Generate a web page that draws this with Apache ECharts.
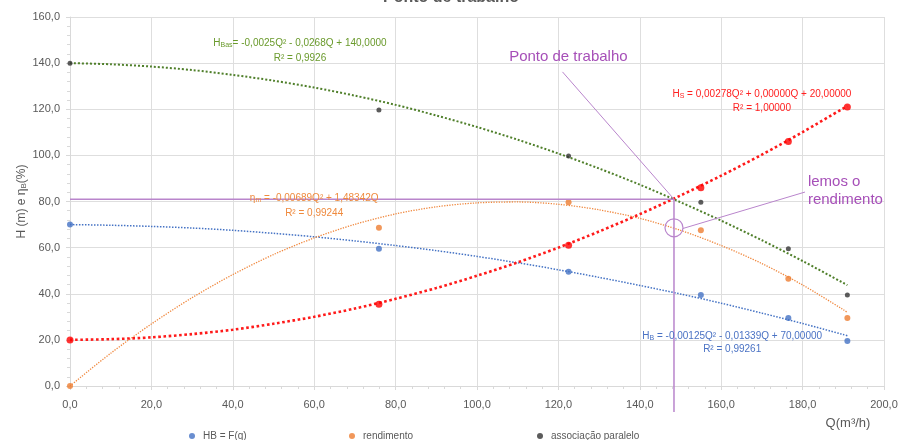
<!DOCTYPE html>
<html>
<head>
<meta charset="utf-8">
<script src="https://cdn.jsdelivr.net/npm/echarts@6/dist/echarts.min.js"></script>
<style>
html,body{margin:0;padding:0;background:#fff;}
#c{width:902px;height:440px;}
</style>
</head>
<body>
<div id="c"></div>
<script>
// ---- data ----
const Q      = [0, 75.9, 122.5, 155, 176.5, 191];
const hb     = [70, 59.5, 49.5, 39.5, 29.5, 19.5];
const rend   = [0, 68.6, 79.7, 67.5, 46.5, 29.5];
const assoc  = [140, 119.7, 99.7, 79.7, 59.5, 39.5];
const hs     = [20, 35.5, 61, 86, 106, 121];

// trendline values
const trendQ     = [0, 10, 20, 30, 40, 50, 60, 70, 80, 90, 100, 110, 120, 130, 140, 150, 160, 170, 180, 190, 191];
const trendHB    = [70, 69.7, 69.2, 68.5, 67.5, 66.2, 64.7, 62.9, 60.9, 58.7, 56.2, 53.4, 50.4, 47.1, 43.6, 39.9, 35.9, 31.6, 27.1, 22.3, 21.8];
const trendRend  = [0, 14.2, 26.9, 38.3, 48.3, 57.0, 64.2, 70.1, 74.6, 77.7, 79.4, 79.8, 78.8, 76.4, 72.7, 67.5, 60.9, 53.1, 43.8, 33.1, 31.9];
const trendAssoc = [140, 139.5, 138.5, 137.0, 134.9, 132.4, 129.4, 125.9, 121.9, 117.3, 112.3, 106.8, 100.8, 94.3, 87.3, 79.7, 71.7, 63.2, 54.2, 44.7, 43.7];
const trendHs    = [20, 20.3, 21.1, 22.5, 24.4, 27.0, 30.0, 33.6, 37.8, 42.5, 47.8, 53.6, 60.0, 67.0, 74.5, 82.6, 91.2, 100.3, 110.1, 120.4, 121.4];

const xTicks = {min: 0, max: 200, interval: 20};
const yTicks = {min: 0, max: 160, interval: 20};

// working point and efficiency read-off
const workPoint = [148.4, 81];
const effPoint  = [148.4, 68.6];

const legendNames = ['HB = F(q)', 'rendimento', 'associação paralelo'];

const pairs = (xs, ys) => xs.map((x, i) => [x, ys[i]]);
const fmt = v => v.toFixed(1).replace('.', ',');

const chart = echarts.init(document.getElementById('c'), null, {renderer: 'canvas'});
const FONT = 'Liberation Sans, Arial, sans-serif';
const GRAY = '#595959';

function trend(name, data, color, width) {
  return {
    name: name, type: 'line', data: data, smooth: 0.3, symbol: 'none',
    lineStyle: {color: color, width: width, type: 'dotted'},
    silent: true, z: 2, legendHoverLink: false
  };
}
function pts(name, data, color, size) {
  return {
    name: name, type: 'scatter', data: data, symbolSize: size,
    itemStyle: {color: color}, z: 5
  };
}
function leg(name, left) {
  return {
    data: [name], left: left, top: 426,
    icon: 'circle', itemWidth: 6, itemHeight: 6, itemGap: 0,
    textStyle: {fontFamily: FONT, fontSize: 10, color: GRAY, padding: [0, 0, 0, 3]}
  };
}

chart.setOption({
  animation: false,
  title: {
    text: 'Ponto de trabalho', left: 'center', top: -15,
    textStyle: {fontFamily: FONT, fontSize: 16, fontWeight: 'bold', color: GRAY}
  },
  grid: {left: 70, right: 18, top: 17, bottom: 54, containLabel: false},
  legend: [leg(legendNames[0], 184), leg(legendNames[1], 344), leg(legendNames[2], 532)],
  xAxis: {
    type: 'value', min: xTicks.min, max: xTicks.max, interval: xTicks.interval,
    axisLine: {show: true, lineStyle: {color: '#d9d9d9'}},
    axisTick: {show: true, length: 4, lineStyle: {color: '#d9d9d9'}},
    minorTick: {show: true, splitNumber: 5, length: 3, lineStyle: {color: '#d9d9d9'}},
    splitLine: {show: true, lineStyle: {color: '#dedede'}},
    axisLabel: {formatter: fmt, fontFamily: FONT, fontSize: 11, color: GRAY, margin: 13}
  },
  yAxis: {
    type: 'value', min: yTicks.min, max: yTicks.max, interval: yTicks.interval,
    name: '{a|H (m) e η}{s|B}{a|(%)}', nameLocation: 'middle', nameGap: 42,
    nameMoveOverlap: false,
    nameTextStyle: {
      rich: {
        a: {fontFamily: FONT, fontSize: 12, color: GRAY, lineHeight: 16, verticalAlign: 'bottom'},
        s: {fontFamily: FONT, fontSize: 8, color: GRAY, lineHeight: 10, verticalAlign: 'bottom'}
      }
    },
    axisLine: {show: true, lineStyle: {color: '#d9d9d9'}},
    axisTick: {show: true, length: 4, lineStyle: {color: '#d9d9d9'}},
    minorTick: {show: true, splitNumber: 5, length: 3, lineStyle: {color: '#d9d9d9'}},
    splitLine: {show: true, lineStyle: {color: '#dedede'}},
    axisLabel: {formatter: fmt, fontFamily: FONT, fontSize: 11, color: GRAY, margin: 10}
  },
  series: [
    trend('tHB', pairs(trendQ, trendHB), '#4472c4', 1.5),
    trend('tRend', pairs(trendQ, trendRend), '#f0883e', 1.3),
    trend('tAssoc', pairs(trendQ, trendAssoc), '#4f7f2a', 2),
    trend('tHs', pairs(trendQ, trendHs), '#ff1a1a', 2.6),
    pts(legendNames[0], pairs(Q, hb), '#4472c4', 6),
    pts(legendNames[1], pairs(Q, rend), '#ed7d31', 6),
    pts(legendNames[2], pairs(Q, assoc), '#333333', 5),
    pts('Hs', pairs(Q, hs), '#ff0000', 7)
  ]
});

// ---- annotations positioned through the chart's own scales ----
const P = d => chart.convertToPixel({gridIndex: 0}, d);
const PURPLE_TXT = '#a64fb8';
const PURPLE_LN = '#b985cc';

function eqText(pos, parts, color) {
  const p = P(pos);
  return {
    type: 'text', x: p[0], y: p[1], z: 10,
    style: {
      text: parts, align: 'center', verticalAlign: 'middle',
      rich: {
        a: {fontFamily: FONT, fontSize: 10, fill: color, lineHeight: 13, verticalAlign: 'bottom'},
        s: {fontFamily: FONT, fontSize: 7, fill: color, lineHeight: 9, verticalAlign: 'bottom'}
      }
    }
  };
}
function line(a, b, w) {
  return {type: 'line', z: 8, shape: {x1: a[0], y1: a[1], x2: b[0], y2: b[1]},
    style: {stroke: PURPLE_LN, lineWidth: w || 1}};
}
function plain(pos, text, size, color) {
  const p = P(pos);
  return {type: 'text', x: p[0], y: p[1], z: 10,
    style: {text: text, fontFamily: FONT, fontSize: size, fill: color, align: 'left', verticalAlign: 'middle'}};
}

const wp = P(workPoint), ep = P(effPoint);
const axisLeft = P([0, workPoint[1]]);
const belowAxis = P([workPoint[0], -11.3]);

chart.setOption({
  graphic: [
    line(axisLeft, wp, 1.5),
    line(wp, belowAxis, 1.5),
    {type: 'circle', z: 9, shape: {cx: ep[0], cy: ep[1], r: 9},
      style: {fill: 'none', stroke: PURPLE_LN, lineWidth: 1.2}},
    line(P([121, 136.2]), wp, 1),
    line(P([150.6, 68.3]), P([180.6, 84.1]), 1),
    plain([107.9, 142.7], 'Ponto de trabalho', 15, PURPLE_TXT),
    plain([181.3, 88.5], 'lemos o', 15, PURPLE_TXT),
    plain([181.3, 80.7], 'rendimento', 15, PURPLE_TXT),
    eqText([56.5, 149.2], '{a|H}{s|Bas}{a|= -0,0025Q² - 0,0268Q + 140,0000}', '#6a9a2c'),
    eqText([56.5, 142.7], '{a|R² = 0,9926}', '#6a9a2c'),
    eqText([170, 127.1], '{a|H}{s|S}{a| = 0,00278Q² + 0,00000Q + 20,00000}', '#ff2020'),
    eqText([170, 121.0], '{a|R² = 1,00000}', '#ff2020'),
    eqText([60, 82], '{a|η}{s|m}{a| = -0,00689Q² + 1,48342Q}', '#ef8a3e'),
    eqText([60, 75.5], '{a|R² = 0,99244}', '#ef8a3e'),
    eqText([162.7, 22.1], '{a|H}{s|B}{a| = -0,00125Q² - 0,01339Q + 70,00000}', '#4a72c4'),
    eqText([162.7, 16.5], '{a|R² = 0,99261}', '#4a72c4'),
    {type: 'text', x: 848, y: 423, z: 10,
      style: {text: 'Q(m³/h)', fontFamily: FONT, fontSize: 13, fill: GRAY, align: 'center', verticalAlign: 'middle'}}
  ]
});
</script>
</body>
</html>
